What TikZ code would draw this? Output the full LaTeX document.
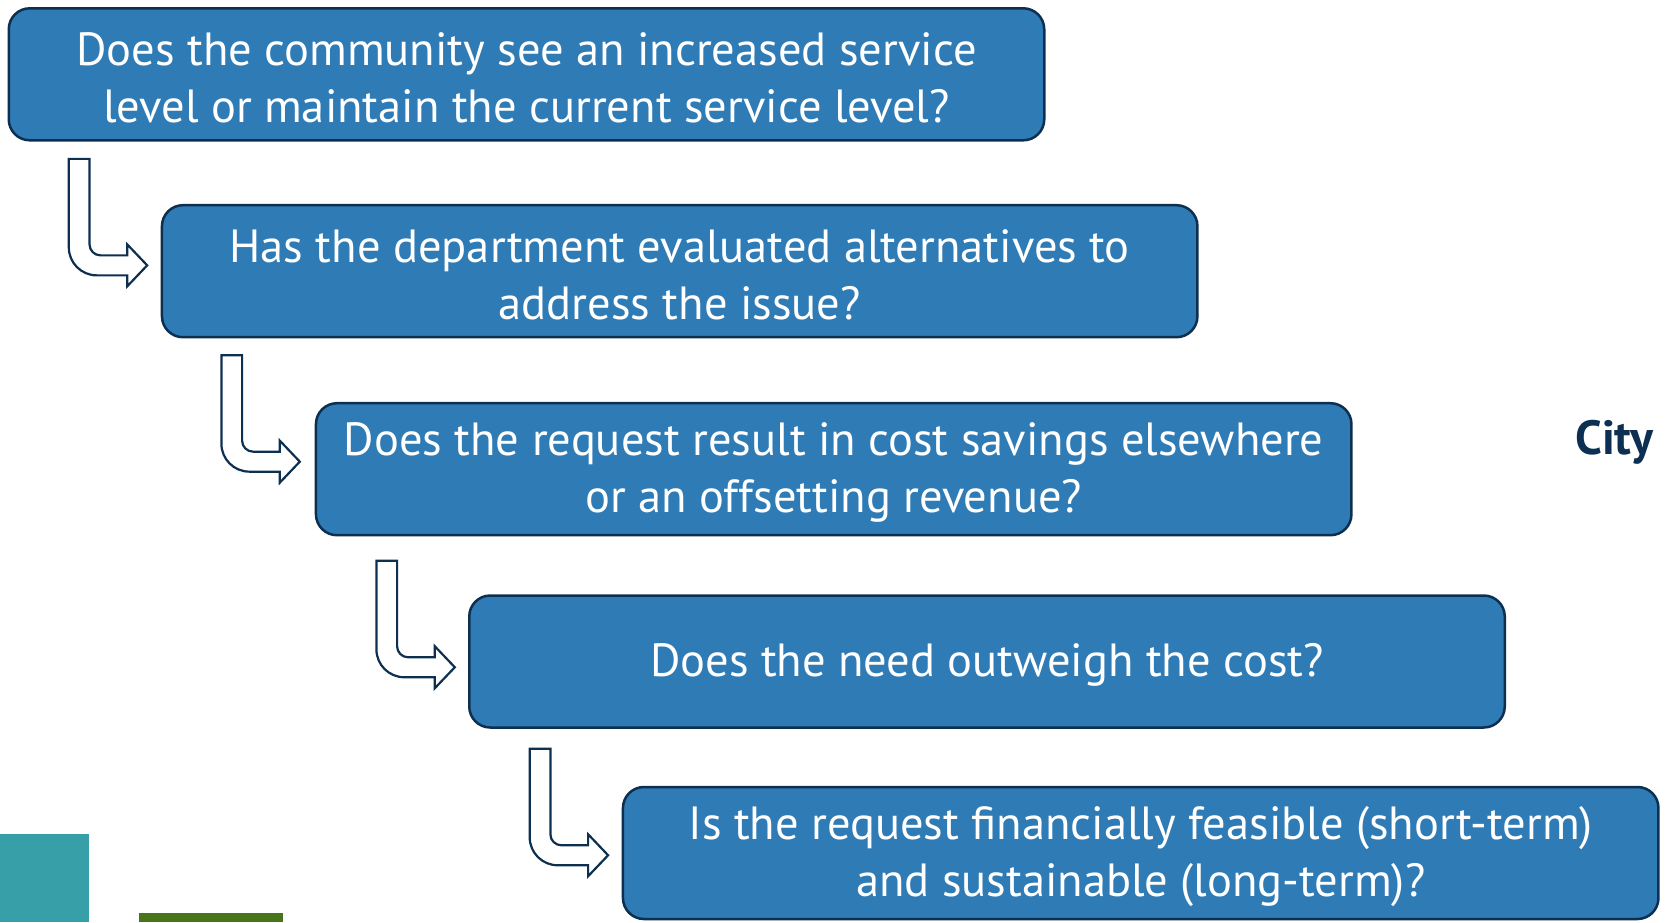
\documentclass[tikz,border=0pt]{standalone}
\usepackage{fontspec}
\setmainfont{PT Sans}
\usetikzlibrary{calc}
\definecolor{boxblue}{HTML}{2F7BB5}
\definecolor{navy}{HTML}{0D3050}
\definecolor{cityblue}{HTML}{0C2F52}
\definecolor{teal}{HTML}{369FA7}
\definecolor{leaf}{HTML}{46751A}
\begin{document}
\begin{tikzpicture}[x=1pt,y=-1pt,
  qbox/.style={draw=navy, line width=2.5pt, fill=boxblue, rounded corners=21pt,
    minimum width=1035.5pt, minimum height=132pt, inner sep=0pt},
  qtext/.style={inner sep=0pt, align=center, text=white,
    font=\fontsize{46.5}{57}\selectfont},
  bentarrow/.pic={
    \draw[draw=navy, line width=2.2pt, fill=white, line join=miter]
      (0,0) -- (20.7,0) -- (20.7,85.5)
      .. controls (20.7,91.6) and (25.6,96.5) .. (31.7,96.5)
      -- (58.4,96.5) -- (58.4,85.5) -- (78.4,106.5) -- (58.4,127.5) -- (58.4,116.5)
      -- (28,116.5) .. controls (12.5,116.5) and (0,104) .. (0,88.5) -- cycle;
  }]
\useasboundingbox (0,0) rectangle (1665,922);
\fill[white] (0,0) rectangle (1665,922);

% decorative blocks in the lower left corner
\fill[teal] (0,834) rectangle (88.7,922);
\fill[leaf] (139.3,913.3) rectangle (282.7,922);

% question boxes
\node[qbox] (b1) at (526.5,74.3) {};
\node[qbox] (b2) at (679.7,271.2) {};
\node[qbox] (b3) at (833.7,469.2) {};
\node[qbox] (b4) at (987,661.5) {};
\node[qbox] (b5) at (1140.7,853) {};

% questions, set a little below each box centre
\node[qtext] (t1) at ($(b1.center)+(0,3.5)$) {Does the community see an increased service\\level or maintain the current service level?};
\node[qtext] (t2) at ($(b2.center)+(0,3.5)$) {Has the department evaluated alternatives to\\address the issue?};
\node[qtext] (t3) at ($(b3.center)+(0,3.5)$) {Does the request result in cost savings elsewhere\\or an offsetting revenue?};
\node[qtext] (t4) at ($(b4.center)+(0,3.5)$) {Does the need outweigh the cost?};
\node[qtext] (t5) at ($(b5.center)+(0,3.5)$) {Is the request financially feasible (short-term)\\and sustainable (long-term)?};

% bent arrows leading from one box to the next
\coordinate (a1) at ($(b1.south west)+(61.3,17.3)$);
\coordinate (a2) at ($(b2.south west)+(60.7,16.7)$);
\coordinate (a3) at ($(b3.south west)+(61.7,24.3)$);
\coordinate (a4) at ($(b4.south west)+(61.7,20)$);
\pic at (a1) {bentarrow};
\pic at (a2) {bentarrow};
\pic at (a3) {bentarrow};
\pic at (a4) {bentarrow};

% side label
\node[anchor=base west, inner sep=0pt, text=cityblue, font=\fontsize{48}{57}\selectfont\bfseries] (city) at (1575,454) {City};
\end{tikzpicture}
\end{document}
